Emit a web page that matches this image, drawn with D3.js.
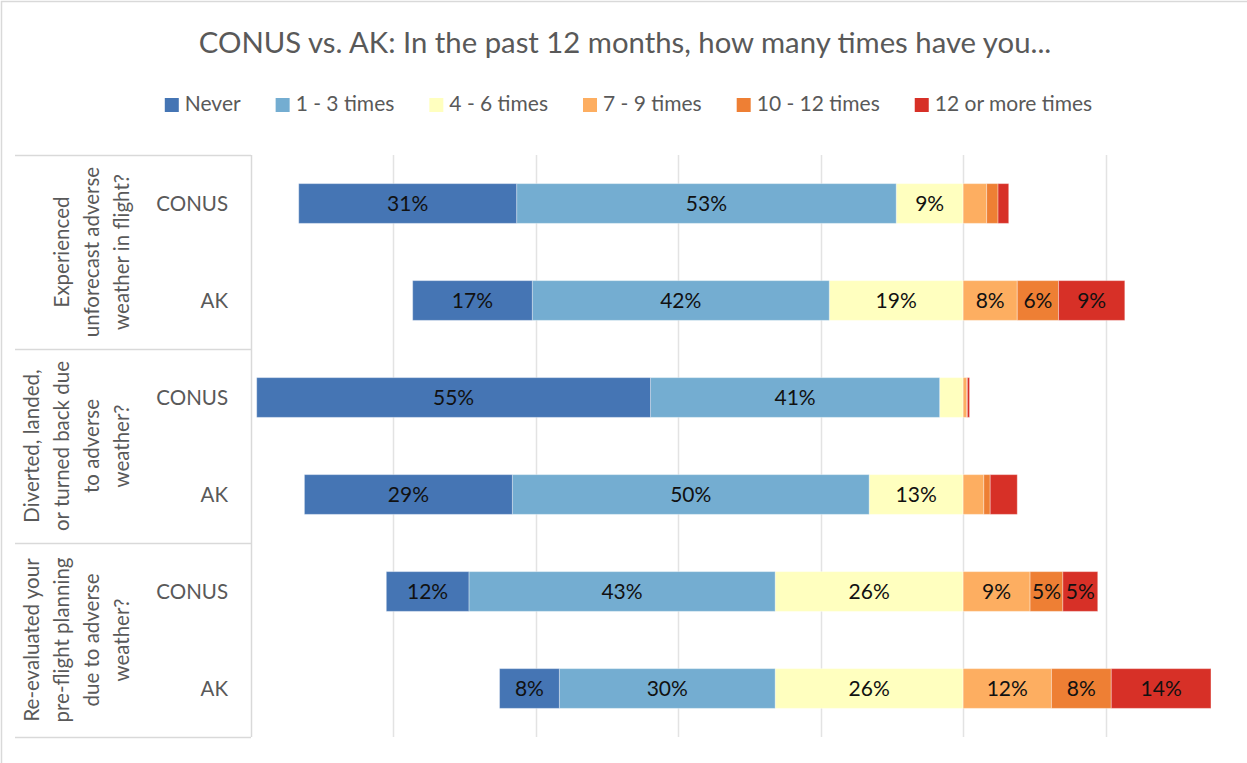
<!DOCTYPE html>
<html>
<head>
<meta charset="utf-8">
<script src="https://cdn.jsdelivr.net/npm/d3@7"></script>
<style>
  html, body { margin: 0; padding: 0; background: #fff; }
  svg { display: block; font-family: Lato, "Open Sans", sans-serif; }
</style>
</head>
<body>
<svg id="chart" width="1247" height="763"></svg>
<script>
// Survey questions (outer groups) and regions (inner rows)
const questions = [
  ["Experienced", "unforecast adverse", "weather in flight?"],
  ["Diverted, landed,", "or turned back due", "to adverse", "weather?"],
  ["Re-evaluated your", "pre-flight planning", "due to adverse", "weather?"]
];
const regions = ["CONUS", "AK"];

// Response categories; the first three are drawn to the left of the split
const seriesNames = ["Never", "1 - 3 times", "4 - 6 times", "7 - 9 times", "10 - 12 times", "12 or more times"];
const seriesColors = ["#4575b4", "#74add1", "#ffffbf", "#fdae61", "#ee7f34", "#d73027"];
const leftCount = 3;

// Percent of respondents, one value per row (Q1 CONUS, Q1 AK, Q2 CONUS, Q2 AK, Q3 CONUS, Q3 AK)
const never      = [30.6, 16.8, 55.3, 29.2, 11.6, 8.4];
const oneToThree = [53.3, 41.7, 40.6, 50.1, 43.0, 30.3];
const fourToSix  = [9.4, 18.8, 3.3, 13.2, 26.4, 26.4];
const sevenToNine = [3.3, 7.6, 0.5, 2.9, 9.4, 12.4];
const tenToTwelve = [1.6, 5.8, 0.1, 0.9, 4.6, 8.4];
const twelvePlus  = [1.5, 9.3, 0.3, 3.8, 4.9, 14.0];
const seriesValues = [never, oneToThree, fourToSix, sevenToNine, tenToTwelve, twelvePlus];

const gridTicks = [-100, -80, -60, -40, -20, 0, 20, 40];

const svg = d3.select("#chart");
const W = 1247, H = 763;
const plot = { left: 251, right: 1248, top: 155, bottom: 737 };

// Chart border
svg.append("rect")
  .attr("x", 1.5).attr("y", 1.5)
  .attr("width", W + 10).attr("height", H + 10)
  .attr("fill", "none").attr("stroke", "#d9d9d9").attr("stroke-width", 1.5);

// Title
svg.append("text")
  .attr("x", 625).attr("y", 53)
  .attr("text-anchor", "middle")
  .attr("font-size", 29.3)
  .attr("fill", "#595959")
  .text("CONUS vs. AK: In the past 12 months, how many times have you...");

// Scales
const x = d3.scaleLinear().domain([-100, 40]).range([plot.left, plot.right]);
const rowKeys = d3.range(questions.length * regions.length);
const y = d3.scaleBand().domain(rowKeys).range([plot.top, plot.bottom])
  .paddingInner(0.59).paddingOuter(0.295);
const step = y.step();

// Gridlines
svg.append("g").selectAll("line")
  .data(gridTicks.filter(t => t > -100))
  .join("line")
  .attr("x1", d => Math.round(x(d)) + 0.5).attr("x2", d => Math.round(x(d)) + 0.5)
  .attr("y1", plot.top).attr("y2", plot.bottom)
  .attr("stroke", "#e3e3e3").attr("stroke-width", 1.5);

// Stacked segments: left categories stack leftwards from 0, right ones rightwards
const segments = [];
rowKeys.forEach(r => {
  let left = 0;
  for (let s = leftCount - 1; s >= 0; s--) {
    const v = seriesValues[s][r];
    segments.push({ row: r, s, v, x0: left - v, x1: left });
    left -= v;
  }
  let right = 0;
  for (let s = leftCount; s < seriesNames.length; s++) {
    const v = seriesValues[s][r];
    segments.push({ row: r, s, v, x0: right, x1: right + v });
    right += v;
  }
});

const segG = svg.append("g");
segG.selectAll("rect")
  .data(segments)
  .join("rect")
  .attr("x", d => x(d.x0))
  .attr("y", d => y(d.row))
  .attr("width", d => x(d.x1) - x(d.x0))
  .attr("height", y.bandwidth())
  .attr("fill", d => seriesColors[d.s])
  .attr("stroke", "#ffffff").attr("stroke-opacity", 0.35).attr("stroke-width", 1);

segG.selectAll("text")
  .data(segments.filter(d => d.v >= 4.5))
  .join("text")
  .attr("x", d => (x(d.x0) + x(d.x1)) / 2)
  .attr("y", d => y(d.row) + y.bandwidth() / 2)
  .attr("dy", "0.36em")
  .attr("text-anchor", "middle")
  .attr("font-size", 21)
  .attr("fill", "#111")
  .text(d => Math.round(d.v) + "%");

// Category axis: vertical axis line, group separators and labels
const axisG = svg.append("g");
axisG.append("line")
  .attr("x1", plot.left + 0.5).attr("x2", plot.left + 0.5)
  .attr("y1", plot.top).attr("y2", plot.bottom)
  .attr("stroke", "#d9d9d9").attr("stroke-width", 1.5);

const groupEdges = d3.range(questions.length + 1).map(i => plot.top + i * step * regions.length);
axisG.selectAll("line.sep")
  .data(groupEdges)
  .join("line")
  .attr("class", "sep")
  .attr("x1", 15).attr("x2", plot.left)
  .attr("y1", d => d + 0.5).attr("y2", d => d + 0.5)
  .attr("stroke", "#d9d9d9").attr("stroke-width", 1.5);

// Region labels
axisG.selectAll("text.region")
  .data(rowKeys)
  .join("text")
  .attr("class", "region")
  .attr("x", 228)
  .attr("y", r => y(r) + y.bandwidth() / 2)
  .attr("dy", "0.36em")
  .attr("text-anchor", "end")
  .attr("font-size", 20.5)
  .attr("fill", "#595959")
  .text(r => regions[r % regions.length]);

// Rotated question labels, last line aligned nearest the region labels
questions.forEach((lines, i) => {
  const cy = (groupEdges[i] + groupEdges[i + 1]) / 2;
  const n = lines.length;
  lines.forEach((line, j) => {
    const lx = 122 - (n - 1 - j) * 30;
    axisG.append("text")
      .attr("transform", `translate(${lx},${cy}) rotate(-90)`)
      .attr("text-anchor", "middle")
      .attr("dy", "0.36em")
      .attr("font-size", 20.5)
      .attr("fill", "#595959")
      .text(line);
  });
});

// Legend
const legend = svg.append("g");
const items = legend.selectAll("g")
  .data(seriesNames)
  .join("g");
items.append("rect")
  .attr("width", 14).attr("height", 14)
  .attr("y", -13)
  .attr("fill", (d, i) => seriesColors[i]);
items.append("text")
  .attr("x", 20)
  .attr("font-size", 21)
  .attr("fill", "#595959")
  .text(d => d);
const gap = 35;
let cursor = 0;
items.each(function () {
  const g = d3.select(this);
  g.attr("transform", `translate(${cursor},0)`);
  cursor += 20 + g.select("text").node().getComputedTextLength() + gap;
});
const legendWidth = cursor - gap;
legend.attr("transform", `translate(${(165 + 1092) / 2 - legendWidth / 2},111)`);
</script>
</body>
</html>
